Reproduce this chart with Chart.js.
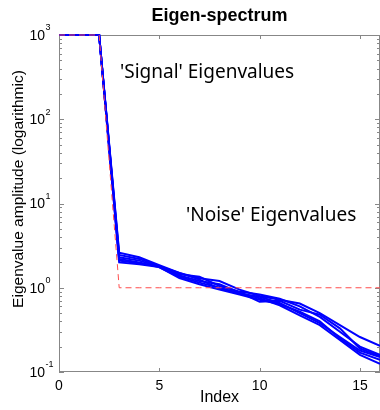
<!DOCTYPE html>
<html>
<head>
<meta charset="utf-8">
<script src="https://cdn.jsdelivr.net/npm/chart.js@4/dist/chart.umd.min.js"></script>
<style>
  body { margin: 0; background: #fff; }
  canvas { display: block; }
</style>
</head>
<body>
<canvas id="spectrum" width="380" height="410"></canvas>
<script>
// eigenvalue index along the x axis
const xIndex = [0, 1, 2, 3, 4, 5, 6, 7, 8, 9, 10, 11, 12, 13, 14, 15, 16]

// true spectrum (red dashed)
const trueSpectrum = [1000, 1000, 1000, 1, 1, 1, 1, 1, 1, 1, 1, 1, 1, 1, 1, 1, 1]

// estimated spectra from several noisy runs (blue)
const run1 = [1000, 1000, 1000, 2.6, 2.3, 1.85, 1.5, 1.3, 1.2, 0.95, 0.8, 0.72, 0.65, 0.5, 0.36, 0.26, 0.205]
const run2 = [1000, 1000, 1000, 2.45, 2.2, 1.8, 1.45, 1.35, 1.05, 0.9, 0.83, 0.74, 0.6, 0.45, 0.3, 0.2, 0.16]
const run3 = [1000, 1000, 1000, 2.3, 2.1, 1.78, 1.4, 1.2, 1.1, 0.88, 0.68, 0.7, 0.55, 0.48, 0.33, 0.19, 0.155]
const run4 = [1000, 1000, 1000, 2.2, 2.0, 1.75, 1.35, 1.15, 1.0, 0.85, 0.78, 0.66, 0.5, 0.38, 0.26, 0.18, 0.15]
const run5 = [1000, 1000, 1000, 2.1, 1.95, 1.8, 1.5, 1.25, 0.98, 0.87, 0.75, 0.62, 0.47, 0.36, 0.24, 0.16, 0.125]
const run6 = [1000, 1000, 1000, 2.0, 1.9, 1.76, 1.3, 1.1, 0.95, 0.83, 0.72, 0.64, 0.52, 0.4, 0.25, 0.17, 0.14]
const runs = [run1, run2, run3, run4, run5, run6]

// axis ticks
const xTicks = [0, 5, 10, 15]
const yExponents = [-1, 0, 1, 2, 3]

const AXIS_COLOR = '#878787'

function toPoints(values) {
    return values.map((v, i) => ({ x: xIndex[i], y: v }))
}

const datasets = [{
    label: 'True spectrum',
    data: toPoints(trueSpectrum),
    borderColor: '#ff4d4d',
    borderWidth: 1,
    borderDash: [6, 4],
    pointRadius: 0,
    fill: false,
    clip: 3
}]
runs.forEach((run, i) => {
    datasets.push({
        label: 'Run ' + (i + 1),
        data: toPoints(run),
        borderColor: '#0000ff',
        borderWidth: 2,
        pointRadius: 0,
        fill: false,
        clip: 3
    })
})

// MATLAB-style box, inward ticks, superscript tick labels and annotations
const matlabAxes = {
    id: 'matlabAxes',
    beforeDatasetsDraw(chart) {
        const ctx = chart.ctx
        const { left, right, top, bottom } = chart.chartArea
        const xs = chart.scales.x
        const ys = chart.scales.y
        ctx.save()
        ctx.strokeStyle = AXIS_COLOR
        ctx.lineWidth = 1
        ctx.strokeRect(left + 0.5, top + 0.5, right - left - 1, bottom - top - 1)
        ctx.beginPath()
        xTicks.forEach(v => {
            const px = Math.round(xs.getPixelForValue(v)) + 0.5
            ctx.moveTo(px, bottom); ctx.lineTo(px, bottom - 4)
            ctx.moveTo(px, top); ctx.lineTo(px, top + 4)
        })
        yExponents.forEach(e => {
            for (let m = 1; m < 10; m++) {
                const v = m * Math.pow(10, e)
                if (v > 1000) break
                const py = Math.round(ys.getPixelForValue(v)) + 0.5
                const len = m === 1 ? 5 : 3
                ctx.moveTo(left, py); ctx.lineTo(left + len, py)
                ctx.moveTo(right, py); ctx.lineTo(right - len, py)
            }
        })
        ctx.stroke()
        ctx.restore()
    },
    afterDraw(chart) {
        const ctx = chart.ctx
        const { left, right } = chart.chartArea
        const ys = chart.scales.y
        const xs = chart.scales.x
        ctx.save()
        ctx.fillStyle = '#000'
        ctx.textBaseline = 'middle'
        yExponents.forEach(e => {
            const py = ys.getPixelForValue(Math.pow(10, e))
            ctx.font = '14px "Liberation Sans", Arial, sans-serif'
            ctx.textAlign = 'right'
            ctx.fillText('10', 45, py + 1)
            ctx.font = '9px "Liberation Sans", Arial, sans-serif'
            ctx.textAlign = 'left'
            ctx.fillText(String(e), 45.5, py - 7)
        })

        const cx = (left + right) / 2
        ctx.textAlign = 'center'
        ctx.font = 'bold 18px "Liberation Sans", Arial, sans-serif'
        ctx.fillText('Eigen-spectrum', cx, 16)

        ctx.font = '16px "Liberation Sans", Arial, sans-serif'
        ctx.fillText('Index', cx, 398)

        ctx.save()
        ctx.translate(19, 189)
        ctx.rotate(-Math.PI / 2)
        ctx.font = '15.5px "Liberation Sans", Arial, sans-serif'
        ctx.fillText('Eigenvalue amplitude (logarithmic)', 0, 0)
        ctx.restore()

        ctx.font = '19px "Noto Sans", sans-serif'
        ctx.textAlign = 'left'
        ctx.fillText("'Signal' Eigenvalues", xs.getPixelForValue(3.04), ys.getPixelForValue(356))
        ctx.fillText("'Noise' Eigenvalues", xs.getPixelForValue(6.33), ys.getPixelForValue(7.2))
        ctx.restore()
    }
}

new Chart(document.getElementById('spectrum'), {
    type: 'line',
    data: { datasets: datasets },
    plugins: [matlabAxes],
    options: {
        responsive: false,
        animation: false,
        layout: { padding: { top: 35, right: 0, left: 0, bottom: 0 } },
        plugins: {
            legend: { display: false },
            tooltip: { enabled: false },
            title: { display: false }
        },
        scales: {
            x: {
                type: 'linear',
                min: 0,
                max: 16,
                afterBuildTicks: scale => { scale.ticks = xTicks.map(v => ({ value: v })) },
                afterFit: scale => { scale.height = 38 },
                grid: { display: false, drawTicks: false },
                border: { display: false },
                ticks: {
                    padding: 6,
                    maxRotation: 0,
                    color: '#000',
                    font: { family: '"Liberation Sans", Arial, sans-serif', size: 14 }
                }
            },
            y: {
                type: 'logarithmic',
                min: 0.1,
                max: 1000,
                afterFit: scale => { scale.width = 59 },
                grid: { display: false, drawTicks: false },
                border: { display: false },
                ticks: { display: false }
            }
        }
    }
})
</script>
</body>
</html>
